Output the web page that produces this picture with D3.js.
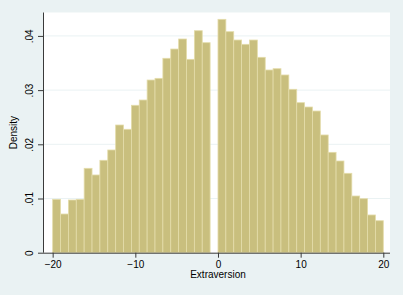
<!DOCTYPE html>
<html>
<head>
<meta charset="utf-8">
<script src="https://cdn.jsdelivr.net/npm/d3@7"></script>
<style>
  body { margin: 0; background: #eaf2f3; }
  svg { display: block; font-family: "Liberation Sans", Arial, sans-serif; }
</style>
</head>
<body>
<svg id="chart" width="403" height="295"></svg>
<script>
// histogram: 42 bins from -20 to 20, one bin (just below 0) is empty
const binLow = -20;
const binHigh = 20;
const density = [
  0.00985, 0.00714, 0.00972, 0.00985, 0.01557, 0.01434, 0.01705, 0.01895,
  0.02356, 0.02277, 0.02720, 0.02817, 0.03186, 0.03217, 0.03587, 0.03758,
  0.03943, 0.03568, 0.04096, 0.03875,
  0,
  0.04306, 0.04078, 0.03924, 0.03845, 0.03924, 0.03605, 0.03371, 0.03395,
  0.03279, 0.03015, 0.02768, 0.02688, 0.02614, 0.02172, 0.01852, 0.01692,
  0.01465, 0.01046, 0.00996, 0.00696, 0.00590
];
const xTicks = [-20, -10, 0, 10, 20];
const yTicks = [0, 0.01, 0.02, 0.03, 0.04];
const yTickLabels = ["0", ".01", ".02", ".03", ".04"];

const W = 403, H = 295;
const plot = { left: 43, right: 390, top: 12.5, bottom: 252.7 };

const svg = d3.select("#chart");
svg.append("rect").attr("width", W).attr("height", H).attr("fill", "#eaf2f3");
svg.append("rect")
    .attr("x", plot.left).attr("y", plot.top)
    .attr("width", plot.right - plot.left).attr("height", plot.bottom - plot.top)
    .attr("fill", "#ffffff");

const x = d3.scaleLinear().domain([-21.17, 20.81]).range([plot.left, plot.right]);
const y = d3.scaleLinear().domain([0, 0.04432]).range([plot.bottom, plot.top]);

const binW = (binHigh - binLow) / density.length;

// grid lines
svg.append("g")
    .selectAll("line")
    .data(yTicks.slice(1))
    .join("line")
    .attr("x1", plot.left).attr("x2", plot.right)
    .attr("y1", d => y(d)).attr("y2", d => y(d))
    .attr("stroke", "#eaf2f3")
    .attr("stroke-width", 1);

// bars
svg.append("g")
    .selectAll("rect")
    .data(density.map((d, i) => ({ lo: binLow + i * binW, v: d })).filter(d => d.v > 0))
    .join("rect")
    .attr("x", d => x(d.lo))
    .attr("width", d => x(d.lo + binW) - x(d.lo))
    .attr("y", d => y(d.v))
    .attr("height", d => y(0) - y(d.v))
    .attr("fill", "#c9bf7e")
    .attr("stroke", "#e4dcaa")
    .attr("stroke-width", 0.8);

// axes
const xAxis = d3.axisBottom(x).tickValues(xTicks).tickSize(5).tickSizeOuter(0).tickPadding(3)
    .tickFormat(d3.format("d"));
const gx = svg.append("g")
    .attr("transform", `translate(0,${plot.bottom})`)
    .call(xAxis);
gx.select(".domain").attr("d", `M${plot.left},0.5H${plot.right}`);

const yAxis = d3.axisLeft(y).tickValues(yTicks).tickSize(5).tickSizeOuter(0)
    .tickFormat((d, i) => yTickLabels[i]);
const gy = svg.append("g")
    .attr("transform", `translate(${plot.left},0)`)
    .call(yAxis);
gy.select(".domain").attr("d", `M0.5,${plot.top}V${plot.bottom}`);
gy.selectAll(".tick text")
    .attr("transform", "rotate(-90)")
    .attr("x", 0)
    .attr("y", -13.5)
    .attr("dy", "0.35em")
    .attr("text-anchor", "middle");

svg.selectAll(".domain, .tick line").attr("stroke", "#3a3a3a");
svg.selectAll(".tick text")
    .attr("fill", "#000")
    .style("font-size", "10px")
    .style("font-family", "'Liberation Sans', Arial, sans-serif");

// titles
svg.append("text")
    .attr("x", (x(-20) + x(20)) / 2)
    .attr("y", 278.3)
    .attr("text-anchor", "middle")
    .style("font-size", "10px")
    .text("Extraversion");

svg.append("text")
    .attr("transform", `translate(13.5,${(plot.top + plot.bottom) / 2}) rotate(-90)`)
    .attr("dy", "0.35em")
    .attr("text-anchor", "middle")
    .style("font-size", "10px")
    .text("Density");
</script>
</body>
</html>
